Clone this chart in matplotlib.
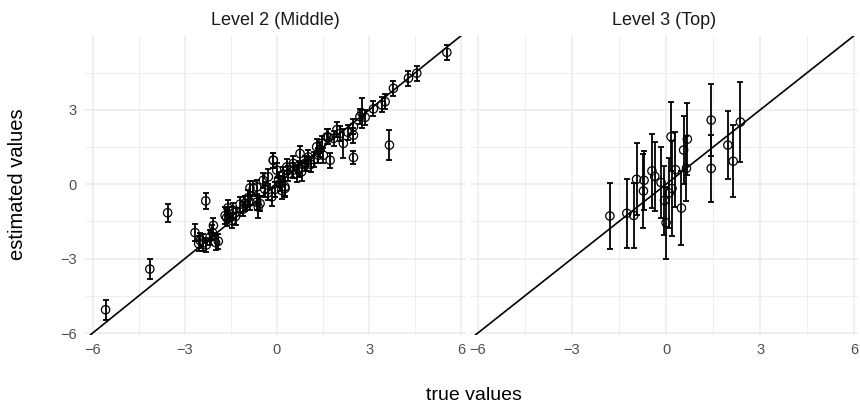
import matplotlib.pyplot as plt
from matplotlib.ticker import MultipleLocator

plt.rcParams['font.family'] = ['Liberation Sans', 'DejaVu Sans']

# Level 2 (Middle): true value, estimate, half-width of error bar
mid_x = [-5.58, -4.14, -3.56, -2.32, -2.67, -2.50, -2.40, -2.07, -2.18, -1.91,
         -2.30, -2.10, -1.69, -1.60, -1.48, -1.43, -1.55, -1.35, -1.64, -1.04,
         -0.88, -0.66, -0.61, -0.88, -0.77, -0.66, -0.55, -0.45, -0.28, -0.17,
         -0.12, -0.01, 0.10, 0.26, 0.32, 0.37, 0.53, 0.75, 0.80, 0.97,
         1.02, 1.29, 1.35, 1.46, 1.67, 1.73, 1.84, 2.05, 2.16, 2.49,
         3.66, 2.49, 2.49, 2.70, 2.87, 2.76, 3.14, 3.41, 3.52, 3.79,
         4.28, 4.55, 5.53, 1.51, 1.40, 1.20, 0.91, 0.64, 0.53, 0.20,
         0.05, -0.05, -0.30, -0.95, -1.20, -1.10, -0.40, 0.15, 0.70, 1.10,
         2.30, 1.95, 1.62, -2.55, -2.00, -0.12, 0.26]
mid_y = [-5.06, -3.42, -1.15, -0.67, -1.95, -2.27, -2.36, -1.66, -2.13, -2.30,
         -2.45, -1.95, -1.26, -0.95, -1.46, -1.05, -1.20, -1.30, -1.35, -0.77,
         -0.72, -0.72, -0.92, -0.15, -0.17, -0.11, -0.78, 0.16, 0.30, -0.51,
         0.97, 0.57, 0.03, -0.10, 0.70, 0.43, 0.84, 1.24, 0.50, 0.84,
         1.10, 1.51, 1.17, 1.65, 1.91, 0.97, 1.85, 2.05, 1.65, 1.08,
         1.58, 2.32, 1.98, 2.73, 2.70, 2.88, 3.04, 3.20, 3.33, 3.87,
         4.28, 4.48, 5.32, 1.17, 1.40, 1.00, 0.84, 0.43, 0.57, 0.40,
         0.20, -0.20, -0.35, -0.55, -0.80, -1.00, -0.20, -0.25, 0.60, 0.80,
         2.10, 2.20, 1.91, -2.40, -2.35, 0.97, -0.17]
mid_err = [0.40, 0.40, 0.37, 0.33, 0.33, 0.30, 0.35, 0.30, 0.30, 0.30,
           0.30, 0.30, 0.35, 0.30, 0.30, 0.30, 0.30, 0.35, 0.35, 0.30,
           0.30, 0.30, 0.45, 0.30, 0.30, 0.30, 0.30, 0.30, 0.30, 0.35,
           0.30, 0.30, 0.30, 0.40, 0.30, 0.30, 0.30, 0.30, 0.35, 0.30,
           0.30, 0.30, 0.30, 0.30, 0.30, 0.30, 0.30, 0.30, 0.58, 0.25,
           0.61, 0.30, 0.30, 0.30, 0.30, 0.60, 0.30, 0.30, 0.30, 0.30,
           0.30, 0.30, 0.30, 0.30, 0.30, 0.30, 0.30, 0.35, 0.30, 0.30,
           0.30, 0.30, 0.30, 0.30, 0.30, 0.30, 0.30, 0.35, 0.30, 0.30,
           0.30, 0.30, 0.30, 0.30, 0.30, 0.30, 0.30]

# Level 3 (Top)
top_x = [-1.79, -1.25, -1.03, -0.94, -0.70, -0.72, -0.45, -0.36, -0.16, -0.05,
         0.00, 0.16, 0.19, 0.30, 0.49, 0.56, 0.68, 0.65, 1.44, 1.44,
         1.97, 2.14, 2.37, 0.10]
top_y = [-1.28, -1.17, -1.26, 0.20, 0.16, -0.27, 0.54, 0.32, 0.07, -0.65,
         -1.55, 1.92, -0.17, 0.59, -0.96, 1.38, 1.82, 0.64, 2.59, 0.64,
         1.58, 0.93, 2.51, -0.35]
top_err = [1.35, 1.40, 1.30, 1.45, 1.20, 1.50, 1.50, 1.40, 1.45, 1.40,
           1.45, 1.40, 1.90, 1.50, 1.50, 1.38, 1.45, 1.30, 1.45, 1.35,
           1.38, 1.45, 1.60, 1.40]

panels = [("Level 2 (Middle)", mid_x, mid_y, mid_err),
          ("Level 3 (Top)", top_x, top_y, top_err)]

fig = plt.figure(figsize=(8.6, 4.09), dpi=100)
W, H = 860, 409
boxes = [(85, 465), (470, 858)]
top_px, bot_px = 36, 335

for (title, xs, ys, es), (l, r) in zip(panels, boxes):
    ax = fig.add_axes([l / W, 1 - bot_px / H, (r - l) / W, (bot_px - top_px) / H])
    ax.set_xlim(-6.25, 6.12)
    ax.set_ylim(-6.08, 5.98)
    ax.xaxis.set_major_locator(MultipleLocator(3))
    ax.yaxis.set_major_locator(MultipleLocator(3))
    ax.xaxis.set_minor_locator(MultipleLocator(1.5))
    ax.yaxis.set_minor_locator(MultipleLocator(1.5))
    ax.grid(which='major', color='#EBEBEB', linewidth=1.1)
    ax.grid(which='minor', color='#EBEBEB', linewidth=0.6)
    ax.set_axisbelow(True)
    for s in ax.spines.values():
        s.set_visible(False)
    ax.tick_params(which='both', length=0, labelsize=10.5, labelcolor='#4D4D4D', pad=6)
    ax.axline((0, 0), slope=1, color='black', linewidth=1.2, zorder=2)
    ax.errorbar(xs, ys, yerr=es, fmt='none', ecolor='black', elinewidth=1.3,
                capsize=2.5, capthick=1.3, zorder=3)
    ax.scatter(xs, ys, s=36, facecolors='none', edgecolors='black',
               linewidths=0.9, zorder=4)
    ax.set_title(title, fontsize=13, color='#1A1A1A', pad=8)
    if l > 100:
        ax.set_yticklabels([])

fig.text(474 / W, 1 - 396 / H, "true values", ha='center', va='center', fontsize=14)
fig.text(18 / W, 1 - 184 / H, "estimated values", ha='center', va='center',
         rotation=90, fontsize=14.5)

fig.savefig("out.png", dpi=100, facecolor='white')
